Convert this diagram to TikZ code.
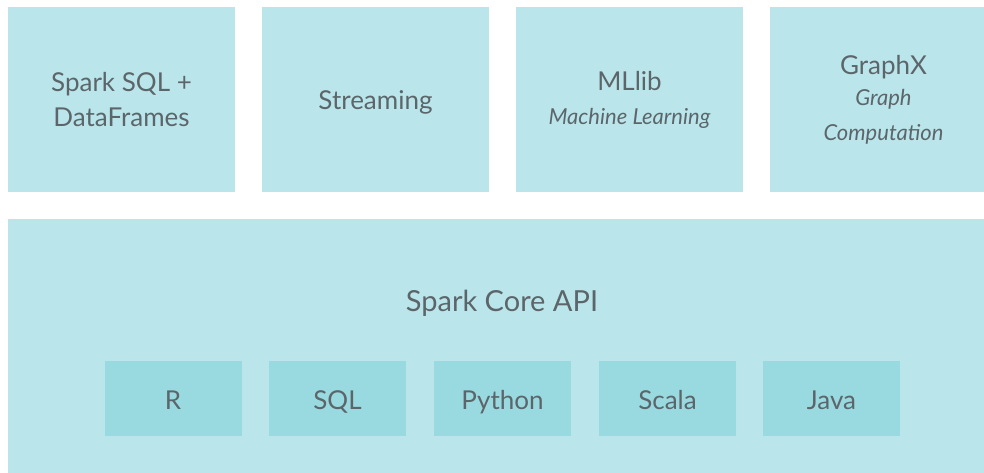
\documentclass[tikz,border=0pt]{standalone}
\usepackage{fontspec}
\setmainfont{Lato}
\definecolor{boxc}{HTML}{BAE6EB}
\definecolor{innerc}{HTML}{99DAE1}
\definecolor{txt}{HTML}{5C666A}
\tikzset{
  topbox/.style={fill=boxc, draw=none, minimum width=227pt, minimum height=185pt, inner sep=0pt, outer sep=0pt, align=center, text=txt, font=\fontsize{26}{35}\selectfont},
  corebox/.style={fill=boxc, draw=none, minimum width=989pt, minimum height=254pt, inner sep=0pt, outer sep=0pt},
  langbox/.style={fill=innerc, draw=none, minimum width=137pt, minimum height=75pt, inner sep=0pt, outer sep=0pt, text=txt, font=\fontsize{26}{30}\selectfont, text height=24pt, text depth=3pt},
  corelabel/.style={text=txt, inner sep=0pt, font=\fontsize{29}{34}\selectfont, anchor=base},
}
\newcommand{\subtxt}[1]{{\fontsize{22}{33}\selectfont\itshape #1}}
\begin{document}
\begin{tikzpicture}[x=1pt,y=-1pt]
\clip (0,0) rectangle (984,473);
\node[topbox] (sql) at (121.5,99.5) {Spark SQL +\\DataFrames};
\node[topbox, text height=24pt, text depth=3pt] (stream) at (375.5,99.5) {Streaming};
\node[topbox] (mllib) at (629.5,99.5) {MLlib\\[-1pt]\subtxt{Machine Learning}};
\node[topbox] (graphx) at (883.5,99.5) {GraphX\\[-4pt]\subtxt{Graph}\\\subtxt{Computation}};
\node[corebox] (core) at (502.5,346) {};
\node[corelabel] (corelbl) at (502,311.5) {Spark Core API};
\node[langbox] (r) at (173,398.5) {R};
\node[langbox] (sqll) at (337.5,398.5) {SQL};
\node[langbox] (py) at (502.5,398.5) {Python};
\node[langbox] (scala) at (667.5,398.5) {Scala};
\node[langbox] (java) at (831.5,398.5) {Java};
\end{tikzpicture}
\end{document}
